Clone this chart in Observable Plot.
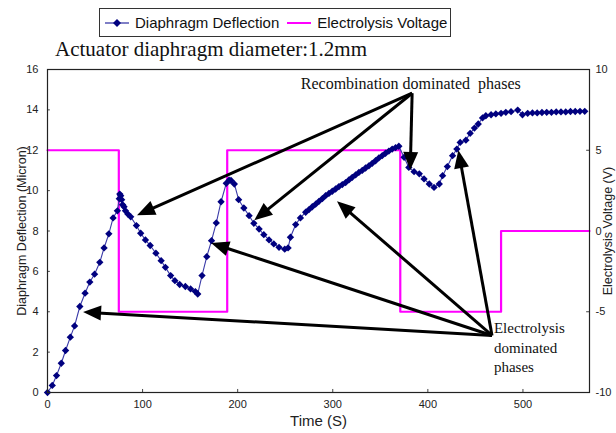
<!DOCTYPE html>
<html><head><meta charset="utf-8">
<script src="https://cdn.jsdelivr.net/npm/d3@7"></script>
<script src="https://cdn.jsdelivr.net/npm/@observablehq/plot@0.6"></script>
<style>
body{margin:0;background:#fff;}
#wrap{position:relative;width:616px;height:433px;font-family:"Liberation Sans",Arial,sans-serif;}
#chart{position:absolute;left:0;top:0;}
#legend{position:absolute;left:99px;top:8px;width:352px;height:29px;border:1px solid #333;display:flex;align-items:center;font-size:15px;color:#111;background:#fff;box-sizing:border-box;}
#legend span{display:inline-flex;align-items:center;white-space:nowrap;}
#title{position:absolute;left:55px;top:37px;font-family:"Liberation Serif","Times New Roman",serif;font-size:21px;color:#111;white-space:nowrap;}
</style></head><body>
<div id="wrap">
<div id="chart"></div>
<div id="legend">
  <span style="margin-left:4px"><svg width="26" height="10"><line x1="1" y1="5" x2="25" y2="5" stroke="#3a3aa8" stroke-width="1.3"/><path d="M13,1L17,5L13,9L9,5Z" fill="#00007f"/></svg><span style="margin-left:5px">Diaphragm Deflection</span></span>
  <span style="margin-left:7px"><svg width="26" height="10"><line x1="1" y1="5" x2="25" y2="5" stroke="#ff00ff" stroke-width="2"/></svg><span style="margin-left:5px">Electrolysis Voltage</span></span>
</div>
<div id="title">Actuator diaphragm diameter:1.2mm</div>
</div>
<script>
// Diaphragm deflection (micron) vs time (s)
const timeS = [0,5,9.5,14.5,19,24,28.5,34,39.5,44.5,49.5,55,59.5,64.5,69,73.5,75.5,76,77,78,79,80.5,82,84.5,87.5,93.5,98,103,108,114,119.5,124,129.5,134,139,145,150.5,155.5,158,162.5,167.5,172.5,177.5,182.5,188,191,193,196.5,201,206.5,212,217,222.5,227.5,233,238,243.5,249.5,253,255.5,261,266,271.5,275,278.5,282,285.5,289,292.5,296,299.5,303,306.5,310,313.5,317,320.5,324,327.5,331,334.5,338,341.5,345,348.5,352,355.5,359,362.5,366,369.5,375,380,385.5,391,396,401.5,406.5,412,415.5,420.5,426,430.5,434,440,444.5,449,453,457.5,461,466.5,471.5,477,482,487.5,494.5,499.5,505,510,515,520,525,530,535,540,545,550,555,560,565];
const deflection = [0,0.35,0.84,1.45,2.08,2.74,3.3,4.26,4.92,5.47,5.86,6.45,7.16,7.86,8.65,9.0,9.6,9.83,9.75,9.55,9.3,9.2,9.0,8.84,8.7,8.27,7.89,7.56,7.28,6.9,6.53,6.2,5.79,5.54,5.35,5.25,5.13,5.0,4.88,5.79,6.73,7.52,8.4,9.45,10.36,10.52,10.5,10.33,9.55,9.14,8.76,8.38,8.1,7.82,7.56,7.36,7.19,7.1,7.16,7.69,8.32,8.65,8.93,9.06,9.2,9.33,9.47,9.6,9.75,9.86,9.97,10.08,10.2,10.3,10.4,10.53,10.66,10.78,10.9,11.0,11.12,11.23,11.35,11.48,11.62,11.73,11.85,11.96,12.06,12.13,12.2,11.65,11.15,10.94,10.83,10.58,10.33,10.16,10.33,10.74,11.19,11.73,12.06,12.39,12.5,12.84,13.1,13.3,13.6,13.71,13.76,13.8,13.83,13.88,13.91,13.99,13.76,13.83,13.85,13.85,13.87,13.88,13.88,13.9,13.9,13.9,13.92,13.92,13.93,13.93];

// Electrolysis voltage (V), step profile
const voltTime = [0,75,75,189,189,371,371,477,477,570];
const voltage  = [5,5,-5,-5,5,5,-5,-5,0,0];

// Axis ticks
const xTicks = [0,100,200,300,400,500];
const yTicks = [0,2,4,6,8,10,12,14,16];
const vTicks = [-10,-5,0,5,10];

// Annotations: arrows from label to curve (data units)
const recombArrows = [
  {t1:384,d1:14.8,t2:94.7,d2:8.76},
  {t1:384,d1:14.8,t2:218,d2:8.51},
  {t1:384,d1:14.8,t2:382,d2:11.0}
];
const electroArrows = [
  {t1:468,d1:2.8,t2:37.9,d2:3.96},
  {t1:468,d1:2.8,t2:172.6,d2:7.38},
  {t1:468,d1:2.8,t2:305,d2:9.45},
  {t1:468,d1:2.8,t2:432.6,d2:11.98}
];

const vToD = v => (v + 10) * 0.8; // right axis -10..10 mapped onto 0..16

const defl = timeS.map((t,i)=>({t, d:deflection[i]}));
const volt = voltTime.map((t,i)=>({t, d:vToD(voltage[i])}));

function arrowsMark(list){
  return (index, scales) => {
    const g = d3.create("svg:g");
    for (const a of list){
      const x1=scales.x(a.t1), y1=scales.y(a.d1), x2=scales.x(a.t2), y2=scales.y(a.d2);
      const dx=x2-x1, dy=y2-y1, L=Math.hypot(dx,dy), ux=dx/L, uy=dy/L;
      const hl=18, hw=7.5;
      const bx=x2-ux*hl, by=y2-uy*hl;
      g.append("line").attr("x1",x1).attr("y1",y1).attr("x2",bx+ux*3).attr("y2",by+uy*3)
        .attr("stroke","#000").attr("stroke-width",3);
      g.append("path").attr("d",`M${x2},${y2}L${bx-uy*hw},${by+ux*hw}L${bx+uy*hw},${by-ux*hw}Z`).attr("fill","#000");
    }
    return g.node();
  };
}

const serif = "Liberation Serif, Times New Roman, serif";

const chart = Plot.plot({
  width:616, height:433,
  marginLeft:47, marginRight:27, marginTop:69, marginBottom:41,
  style:{fontFamily:"Liberation Sans, Arial, sans-serif", fontSize:"11px", color:"#222", background:"transparent"},
  x:{domain:[0,570]},
  y:{domain:[0,16]},
  marks:[
    Plot.axisX(xTicks,{tickSize:0, tickPadding:8, label:null, tickFormat:d=>String(d)}),
    Plot.axisY(yTicks,{tickSize:0, tickPadding:9, label:null, tickFormat:d=>String(d)}),
    Plot.axisY(vTicks.map(vToD),{anchor:"right", tickSize:0, tickPadding:6, label:null, tickFormat:d=>String(Math.round(d/0.8-10))}),
    Plot.ruleX(xTicks.slice(1),{x:d=>d, y1:0, y2:0.15, stroke:"#444"}),
    Plot.ruleY(yTicks,{y:d=>d, x1:0, x2:3, stroke:"#444"}),
    Plot.ruleY(vTicks.map(vToD),{y:d=>d, x1:567, x2:570, stroke:"#444"}),
    Plot.text(["Time (S)"],{frameAnchor:"bottom", dy:29, lineAnchor:"middle", textAnchor:"middle", fontSize:15, fill:"#222"}),
    Plot.text(["Diaphragm Deflection (Micron)"],{frameAnchor:"left", dx:-26, textAnchor:"middle", rotate:-90, fontSize:12.5, fill:"#222"}),
    Plot.text(["Electrolysis Voltage (V)"],{frameAnchor:"right", dx:18, textAnchor:"middle", rotate:-90, fontSize:12.5, fill:"#222"}),
    Plot.line(volt,{x:"t", y:"d", stroke:"#ff00ff", strokeWidth:2.2}),
    Plot.line(defl,{x:"t", y:"d", stroke:"#3a3aa8", strokeWidth:1.1}),
    Plot.dot(defl,{x:"t", y:"d", symbol:"diamond2", r:3.3, fill:"#00007f", stroke:"none"}),
    Plot.frame({stroke:"#222", strokeWidth:1.2}),
    Plot.text(["Recombination dominated\u00a0 phases"],{x:382, y:15.3, textAnchor:"middle", fontFamily:serif, fontSize:16, fill:"#111"}),
    Plot.text(["Electrolysis\ndominated\nphases"],{x:469.5, y:2.28, textAnchor:"start", lineHeight:1.3, fontFamily:serif, fontSize:15, fill:"#111"}),
    arrowsMark(recombArrows.concat(electroArrows))
  ]
});
document.getElementById("chart").appendChild(chart);
</script>
</body></html>
